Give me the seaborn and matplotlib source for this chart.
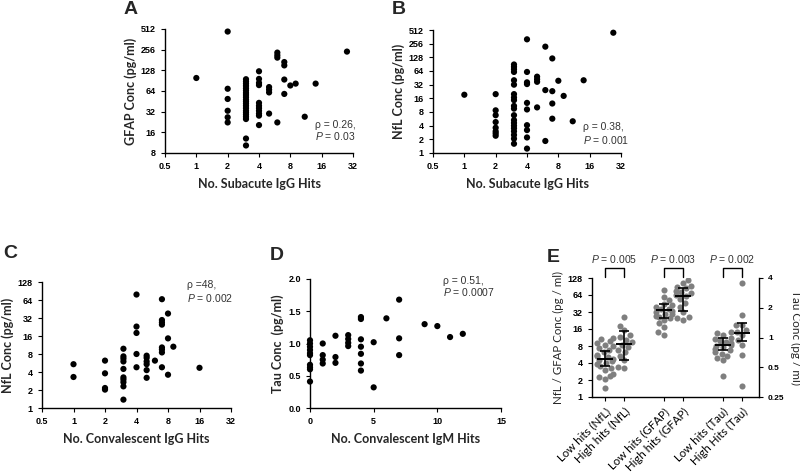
import numpy as np
import pandas as pd
import matplotlib
matplotlib.use('Agg')
import matplotlib.pyplot as plt
import seaborn as sns

# ---- dados ----

# painel A: GFAP x IgG subagudo
a_hits = [1, 2, 2, 2, 2, 2, 2,
          3, 3, 3, 3, 3, 3, 3, 3, 3, 3, 3, 3, 3, 3, 3, 3, 3, 3, 3, 3, 3,
          4, 4, 4, 4, 4, 4, 4, 4, 4, 4, 4,
          5, 5, 5, 5, 6, 6, 6, 6, 7, 7, 7, 7, 8, 9, 11, 14, 28]
a_gfap = [99, 470, 69, 49, 33, 26.5, 22.3,
          95, 88, 82, 76, 70, 65, 60, 56, 52, 48, 45, 42, 39, 36, 33, 31, 29, 27, 25, 13, 10.3,
          124, 96, 84, 78, 43, 39, 36, 33, 30, 28, 20.4,
          73, 67, 61, 30, 232, 212, 196, 22.3, 169, 151, 94, 58, 77, 82, 27, 82, 240]

# painel B: NfL x IgG subagudo
b_hits = [1, 2, 2, 2, 2, 2, 2, 2, 2,
          3, 3, 3, 3, 3, 3, 3, 3, 3, 3, 3, 3, 3, 3, 3, 3, 3, 3, 3, 3,
          4, 4, 4, 4, 4, 4, 4, 4, 4, 4,
          5, 5, 5, 5, 6, 6, 6, 7, 7, 7, 7, 8, 9, 11, 14, 27]
b_nfl = [19.2, 19.8, 8.7, 6.8, 4.8, 3.6, 3.0, 2.7, 2.4,
         89, 79, 70, 61, 40, 32, 19.8, 16.7, 14.6, 10.9, 9.5, 6.8, 5.3, 4.6, 4.0, 3.5, 3.0, 2.5, 2.07, 1.6,
         319, 61, 36, 33, 12.7, 9.1, 4.1, 3.2, 2.2, 1.25,
         48, 42, 37, 10.1, 220, 24.3, 1.84, 121, 23, 12.3, 5.7, 39, 18.1, 5.0, 40, 446]

# painel C: NfL x IgG convalescente
c_hits = [1, 1, 2, 2, 2, 2,
          3, 3, 3, 3, 3, 3, 3, 3, 3, 3,
          4, 4, 4, 4, 4, 5, 5, 5, 5, 5, 5, 6,
          7, 7, 7, 7, 7, 7, 7, 7, 8, 8, 8, 9, 16]
c_nfl = [5.4, 3.3, 6.2, 3.8, 2.16, 2.03,
         9.8, 7.3, 6.7, 6.0, 4.5, 3.25, 3.0, 2.7, 2.3, 1.38,
         79, 23, 18, 8.0, 4.8, 7.5, 6.9, 6.0, 5.4, 4.3, 3.2, 6.2,
         66, 29.6, 27, 24.8, 10.3, 9.5, 8.5, 4.8, 38, 14.6, 3.6, 10.6, 4.7]

# painel D: Tau x IgM convalescente
d_hits = [0, 0, 0, 0, 0, 0, 0, 0, 0, 0,
          1, 1, 1, 1, 2, 2, 2, 3, 3, 3, 3,
          4, 4, 4, 4, 4, 4, 4, 5, 5, 6, 7, 7, 7, 9, 10, 11, 12]
d_tau = [1.05, 1.0, 0.95, 0.9, 0.85, 0.82, 0.67, 0.63, 0.6, 0.41,
         1.0, 0.82, 0.75, 0.69, 1.12, 0.79, 0.7, 1.13, 1.07, 1.01, 0.96,
         1.41, 1.38, 1.065, 0.95, 0.84, 0.69, 0.58, 1.02, 0.32, 1.39, 1.68, 1.08, 0.82, 1.3, 1.27, 1.1, 1.15]

# painel E: grupos low/high hits
low_nfl = [11.1, 10.5, 10, 9, 8.5, 7.9, 7.3, 6.9, 6.2, 5.6, 5.3, 5.1, 4.8, 4.6, 4.3, 4.0,
           3.9, 3.6, 3.3, 3.0, 2.6, 2.4, 2.3, 2.1, 1.44]
high_nfl = [26, 18.4, 15.6, 12.7, 11.4, 10.4, 9.3, 8.5, 7.7, 6.9, 6.2, 5.4, 4.6, 3.4, 3.3]
low_gfap = [78, 60, 52, 45, 42.5, 38.8, 36, 35.8, 33, 32.4, 30, 29.5, 27, 26.4, 25, 23,
            20.2, 17.1, 14.3, 12.5]
high_gfap = [118, 103, 92, 88, 84, 76, 72, 68.5, 64, 61, 54, 45.6, 39.7, 32.4, 26.4, 25, 23]
low_tau = [1.14, 1.1, 1.05, 1.0, 0.97, 0.93, 0.9, 0.87, 0.84, 0.82, 0.8, 0.77, 0.74,
           0.71, 0.68, 0.65, 0.62, 0.59, 0.41]
high_tau = [3.6, 1.69, 1.35, 1.33, 1.19, 1.13, 1.06, 0.94, 0.84, 0.67, 0.32]

e_labels = ['Low hits (NfL)', 'High hits (NfL)', 'Low hits (GFAP)', 'High hits (GFAP)',
            'Low hits (Tau)', 'High Hits (Tau)']
# mediana e barras
e_mid = [4.8, 8.8, 35, 60.6]
e_lo = [3.5, 4.5, 25, 34]
e_hi = [6.6, 15, 44, 85]
tau_mid = [0.84, 1.12]
tau_lo = [0.75, 0.93]
tau_hi = [0.98, 1.41]
e_pvals = ['0.005', '0.003', '0.002']

# ---- estilo ----
sns.set_style('ticks')
plt.rcParams['font.family'] = ['Liberation Sans', 'DejaVu Sans']
plt.rcParams['mathtext.fontset'] = 'custom'
plt.rcParams['mathtext.it'] = 'Liberation Sans:italic'
plt.rcParams['mathtext.rm'] = 'Liberation Sans'
plt.rcParams['axes.linewidth'] = 1.0
plt.rcParams['axes.edgecolor'] = 'black'
plt.rcParams['xtick.major.size'] = 3
plt.rcParams['ytick.major.size'] = 3
plt.rcParams['xtick.color'] = 'black'
plt.rcParams['ytick.color'] = 'black'

W, H = 800, 475
fig = plt.figure(figsize=(8, 4.75), dpi=100)

def box(l, t, r, b):
    return [l / W, 1 - b / H, (r - l) / W, (b - t) / H]

label_font = dict(family='Lato', fontweight='bold', fontsize=9)
note_color = '#333333'
note_size = 7.5

def style_ticks(ax):
    for t in ax.get_xticklabels() + ax.get_yticklabels():
        t.set_fontweight('bold')
        t.set_fontsize(6.5)

def log2_ticks(axis, vals):
    axis.set_ticks(vals)
    axis.set_ticklabels([('%g' % v) for v in vals])
    axis.set_minor_locator(matplotlib.ticker.NullLocator())

def scatter_panel(rect, x, y, xlabel, ylabel):
    ax = fig.add_axes(box(*rect))
    sns.scatterplot(x=x, y=y, ax=ax, color='black', s=20, edgecolor='none',
                    clip_on=False, legend=False, zorder=3)
    sns.despine(ax=ax)
    ax.set_xlabel(xlabel, labelpad=5, **label_font)
    ax.set_ylabel(ylabel, labelpad=3, **label_font)
    return ax

# A
axA = scatter_panel((165, 29, 353, 153), a_hits, a_gfap, 'No. Subacute IgG Hits', 'GFAP Conc (pg/ml)')
axA.set_xscale('log', base=2)
axA.set_yscale('log', base=2)
axA.set_xlim(0.5, 32)
axA.set_ylim(8, 512)
log2_ticks(axA.xaxis, [0.5, 1, 2, 4, 8, 16, 32])
log2_ticks(axA.yaxis, [8, 16, 32, 64, 128, 256, 512])
style_ticks(axA)
fig.text(356 / W, 1 - 131 / H, 'ρ = 0.26,\n$P$ = 0.03', ha='right', va='center',
         multialignment='left', fontsize=note_size, color=note_color, linespacing=1.1)
fig.text(131 / W, 1 - 10 / H, 'A', fontsize=14, fontweight='bold', ha='center', va='center')

# B
axB = scatter_panel((433, 30, 621, 153), b_hits, b_nfl, 'No. Subacute IgG Hits', 'NfL Conc (pg/ml)')
axB.set_xscale('log', base=2)
axB.set_yscale('log', base=2)
axB.set_xlim(0.5, 32)
axB.set_ylim(1, 512)
log2_ticks(axB.xaxis, [0.5, 1, 2, 4, 8, 16, 32])
log2_ticks(axB.yaxis, [1, 2, 4, 8, 16, 32, 64, 128, 256, 512])
style_ticks(axB)
fig.text(583 / W, 1 - 134 / H, 'ρ = 0.38,\n$P$ = 0.001', ha='left', va='center',
         fontsize=note_size, color=note_color, linespacing=1.1)
fig.text(399 / W, 1 - 9 / H, 'B', fontsize=14, fontweight='bold', ha='center', va='center')

# C
axC = scatter_panel((42, 282, 231, 408), c_hits, c_nfl, 'No. Convalescent IgG Hits', 'NfL Conc (pg/ml)')
axC.set_xscale('log', base=2)
axC.set_yscale('log', base=2)
axC.set_xlim(0.5, 32)
axC.set_ylim(1, 128)
log2_ticks(axC.xaxis, [0.5, 1, 2, 4, 8, 16, 32])
log2_ticks(axC.yaxis, [1, 2, 4, 8, 16, 32, 64, 128])
style_ticks(axC)
fig.text(187 / W, 1 - 292 / H, 'ρ =48,\n$P$ = 0.002', ha='left', va='center',
         fontsize=note_size, color=note_color, linespacing=1.1)
fig.text(10 / W, 1 - 253 / H, 'C', fontsize=14, fontweight='bold', ha='center', va='center')

# D
axD = scatter_panel((310, 279, 501, 408), d_hits, d_tau, 'No. Convalescent IgM Hits', 'Tau Conc  (pg/ml)')
axD.set_xlim(0, 15)
axD.set_ylim(0, 2.0)
axD.set_xticks([0, 5, 10, 15])
axD.set_yticks([0, 0.5, 1.0, 1.5, 2.0])
axD.set_yticklabels(['0.0', '0.5', '1.0', '1.5', '2.0'])
style_ticks(axD)
fig.text(443 / W, 1 - 287 / H, 'ρ = 0.51,\n$P$ = 0.0007', ha='left', va='center',
         fontsize=note_size, color=note_color, linespacing=1.1)
fig.text(277 / W, 1 - 255 / H, 'D', fontsize=14, fontweight='bold', ha='center', va='center')

# E
e_order = [e_labels[0], e_labels[1], ' ', e_labels[2], e_labels[3], '  ', e_labels[4], e_labels[5]]
df_left = pd.DataFrame({
    'grupo': [e_labels[0]] * len(low_nfl) + [e_labels[1]] * len(high_nfl)
             + [e_labels[2]] * len(low_gfap) + [e_labels[3]] * len(high_gfap),
    'valor': low_nfl + high_nfl + low_gfap + high_gfap,
})
df_tau = pd.DataFrame({
    'grupo': [e_labels[4]] * len(low_tau) + [e_labels[5]] * len(high_tau),
    'valor': low_tau + high_tau,
})

axE = fig.add_axes(box(592, 278, 759, 397))
axE.set_yscale('log', base=2)
axE.set_ylim(1, 128)
axE.set_xlim(-0.65, 7.85)
sns.swarmplot(data=df_left, x='grupo', y='valor', order=e_order, ax=axE,
              color='#7f7f7f', size=4.4, linewidth=0)
axT = axE.twinx()
axT.set_yscale('log', base=2)
axT.set_ylim(0.25, 4)
sns.swarmplot(data=df_tau, x='grupo', y='valor', order=e_order, ax=axT,
              color='#7f7f7f', size=4.4, linewidth=0)
axE.set_xlim(-0.65, 7.85)
axE.set_ylim(1, 128)
axT.set_ylim(0.25, 4)

pos_left = [e_order.index(g) for g in e_labels[:4]]
pos_tau = [e_order.index(g) for g in e_labels[4:]]
axE.errorbar(pos_left, e_mid, yerr=[np.subtract(e_mid, e_lo), np.subtract(e_hi, e_mid)],
             fmt='none', ecolor='black', elinewidth=1.2, capsize=3.5, capthick=1.2, zorder=5)
axE.plot(pos_left, e_mid, ls='none', marker='_', ms=11, mew=1.4, color='black', zorder=6)
axT.errorbar(pos_tau, tau_mid, yerr=[np.subtract(tau_mid, tau_lo), np.subtract(tau_hi, tau_mid)],
             fmt='none', ecolor='black', elinewidth=1.2, capsize=3.5, capthick=1.2, zorder=5)
axT.plot(pos_tau, tau_mid, ls='none', marker='_', ms=11, mew=1.4, color='black', zorder=6)

# colchetes com P
tr = axE.get_xaxis_transform()
for i, p in enumerate(e_pvals):
    x0, x1 = e_order.index(e_labels[2 * i]), e_order.index(e_labels[2 * i + 1])
    axE.plot([x0, x0, x1, x1], [1.008, 1.084, 1.084, 1.008], transform=tr,
             color='black', lw=1.0, clip_on=False)
    axE.text((x0 + x1) / 2, 1.16, '$P$ = ' + p, transform=tr, ha='center', va='center',
             fontsize=7.5, color=note_color)

axE.set_xticks(pos_left + pos_tau)
axE.set_xticklabels(e_labels, rotation=45, ha='right', rotation_mode='anchor',
                    family='Lato', fontsize=8.3)
axE.set_xlabel('')
axE.set_ylabel('NfL / GFAP Conc (pg / ml)', family='Lato', fontsize=8.3, labelpad=3)
axT.set_ylabel('Tau Conc (pg / ml)', family='Lato', fontsize=8.5, rotation=270, labelpad=12)
log2_ticks(axE.yaxis, [1, 2, 4, 8, 16, 32, 64, 128])
log2_ticks(axT.yaxis, [0.25, 0.5, 1, 2, 4])
for t in axE.get_yticklabels():
    t.set_fontweight('bold')
    t.set_fontsize(6.5)
for t in axT.get_yticklabels():
    t.set_fontweight('bold')
    t.set_fontsize(6)
axE.spines['top'].set_visible(False)
axE.spines['right'].set_visible(False)
axT.spines['top'].set_visible(False)
axT.spines['left'].set_visible(False)
axT.spines['bottom'].set_visible(False)
fig.text(553 / W, 1 - 257 / H, 'E', fontsize=14, fontweight='bold', ha='center', va='center')

fig.savefig('out.png', dpi=100)
